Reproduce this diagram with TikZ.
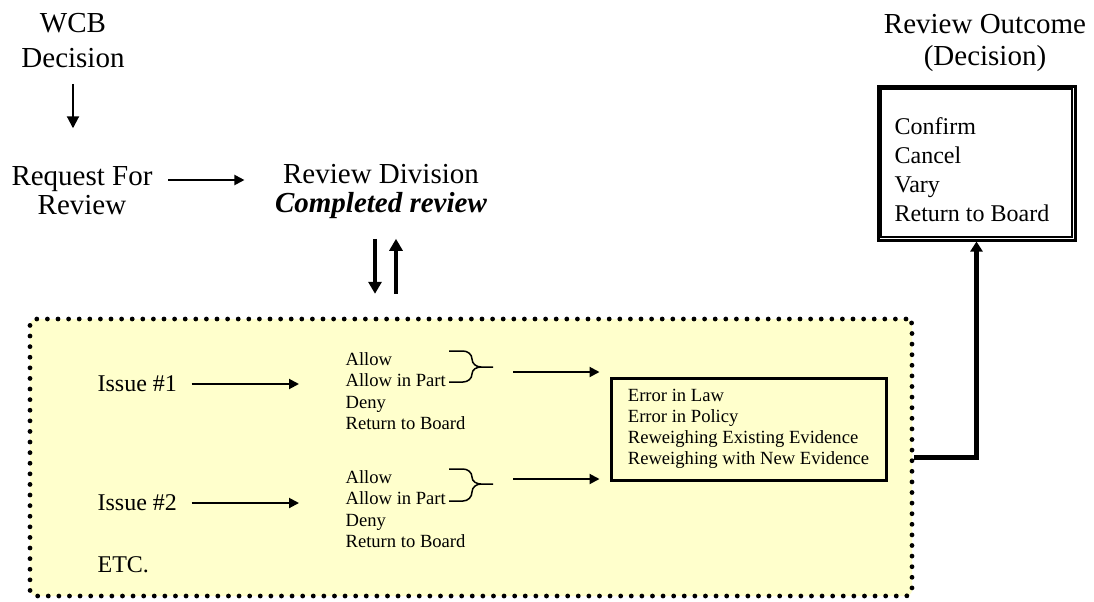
\documentclass[tikz,border=0pt]{standalone}
\usepackage{fontspec}
\setmainfont{Liberation Serif}
\usetikzlibrary{positioning}
\usetikzlibrary{arrows.meta}
\usetikzlibrary{calc}
\definecolor{paleyellow}{HTML}{FFFFCC}

\begin{document}
\begin{tikzpicture}[
            x = 0.5pt, y = -0.5pt, % one unit is one pixel, y going down
            > = {Triangle[length=5pt, width=5pt]}, % arrow head style
            semithick % line style
        ]

        \tikzstyle{head}=[align=center, inner sep=0pt, font=\fontsize{14.5}{17.5}\selectfont]
        \tikzstyle{small}=[align=left, inner sep=0pt, anchor=west, font=\fontsize{9.3}{10.75}\selectfont]
        \tikzstyle{medium}=[align=left, inner sep=0pt, anchor=west, font=\fontsize{12}{14.5}\selectfont]
        \tikzstyle{flow}=[->, line width=1pt]
        \tikzstyle{brace}=[line width=0.75pt]

        \useasboundingbox (0,0) rectangle (1094,601);

        % top row
        \node[head] (wcb) at (73,41) {WCB\\Decision};
        \node[head, font=\fontsize{14.5}{14.5}\selectfont] (req) at (82,191) {Request For\\Review};
        \node[head, font=\fontsize{14.5}{14.5}\selectfont] (rd) at (381,191) {Review Division\\\textbf{\textit{Completed review}}};
        \node[head, font=\fontsize{14.5}{16}\selectfont] (rout) at (985,43) {Review Outcome\\(Decision)};

        \draw[flow, > = {Triangle[length=6pt, width=6pt]}, shorten <=7.5pt, shorten >=19pt] (wcb.south) -- (wcb.south |- req.north);
        \draw[flow, shorten <=7.5pt, shorten >=15pt] ([yshift=5.5pt]req.east) -- ([yshift=5.5pt]req.east -| rd.west);

        % back and forth
        \draw[->, line width=1.6pt, > = {Triangle[length=6pt, width=6.5pt]}] ($(rd.south)+(-6,20)$) -- ++(0,55);
        \draw[->, line width=1.6pt, > = {Triangle[length=6pt, width=6.5pt]}] ($(rd.south)+(15,75)$) -- ++(0,-55);

        % issues panel
        \node (panel) [draw, fill=paleyellow, line width=2.4pt, dash pattern=on 0pt off 5.3pt, line cap=round,
            rounded corners=3pt, inner sep=0pt, minimum width=441pt, minimum height=138.5pt] at (471,457.5) {};

        \node[medium] (iss1) at (97,384) {Issue \#1};
        \node[medium] (iss2) at (97,503) {Issue \#2};
        \node[medium] (etc) at (97,565) {ETC.};

        \node[small] (opt1) at (345,391) {Allow\\Allow in Part\\Deny\\Return to Board};
        \node[small] (opt2) at (345,509) {Allow\\Allow in Part\\Deny\\Return to Board};

        \draw[flow, shorten <=7pt, shorten >=23pt] (iss1.east) -- (iss1.east -| opt1.west);
        \draw[flow, shorten <=7pt, shorten >=23pt] (iss2.east) -- (iss2.east -| opt2.west);

        \coordinate (tip1) at (493,367);
        \coordinate (tip2) at (493,484);
        \draw[brace] (449,351) -- (463,351) to[out=0,in=90] (472,359) to[out=-90,in=180] (481,367) -- (tip1);
        \draw[brace] (449,382) -- (463,382) to[out=0,in=-90] (472,374) to[out=90,in=180] (481,367);
        \draw[brace] (449,469) -- (463,469) to[out=0,in=90] (472,477) to[out=-90,in=180] (481,484) -- (tip2);
        \draw[brace] (449,501) -- (463,501) to[out=0,in=-90] (472,492) to[out=90,in=180] (481,484);

        % grounds
        \node (err) [draw, line width=1.5pt, align=left, inner sep=0pt, minimum width=137.5pt, minimum height=51pt,
            font=\fontsize{9.3}{10.5}\selectfont] at (748.5,429)
            {Error in Law\\Error in Policy\\Reweighing Existing Evidence\\Reweighing with New Evidence};

        \coordinate (go1) at (513,372);
        \coordinate (go2) at (513,479);
        \draw[flow, shorten >=5pt] (go1) -- (go1 -| err.west);
        \draw[flow, shorten >=5pt] (go2) -- (go2 -| err.west);

        % outcome
        \node (outbox) [draw, line width=1.5pt, minimum width=98.5pt, minimum height=77pt] at (976.5,163) {};
        \draw[line width=0.7pt] ($(outbox.north west)+(4.5,4.5)$) rectangle ($(outbox.south east)+(-4.5,-4.5)$);
        \node[medium] (outcome) at (894,170) {Confirm\\Cancel\\Vary\\Return to Board};

        \draw[->, line width=2.2pt, > = {Triangle[length=5pt, width=6pt]}] (panel.east) -| (outbox.south);

\end{tikzpicture}
\end{document}
